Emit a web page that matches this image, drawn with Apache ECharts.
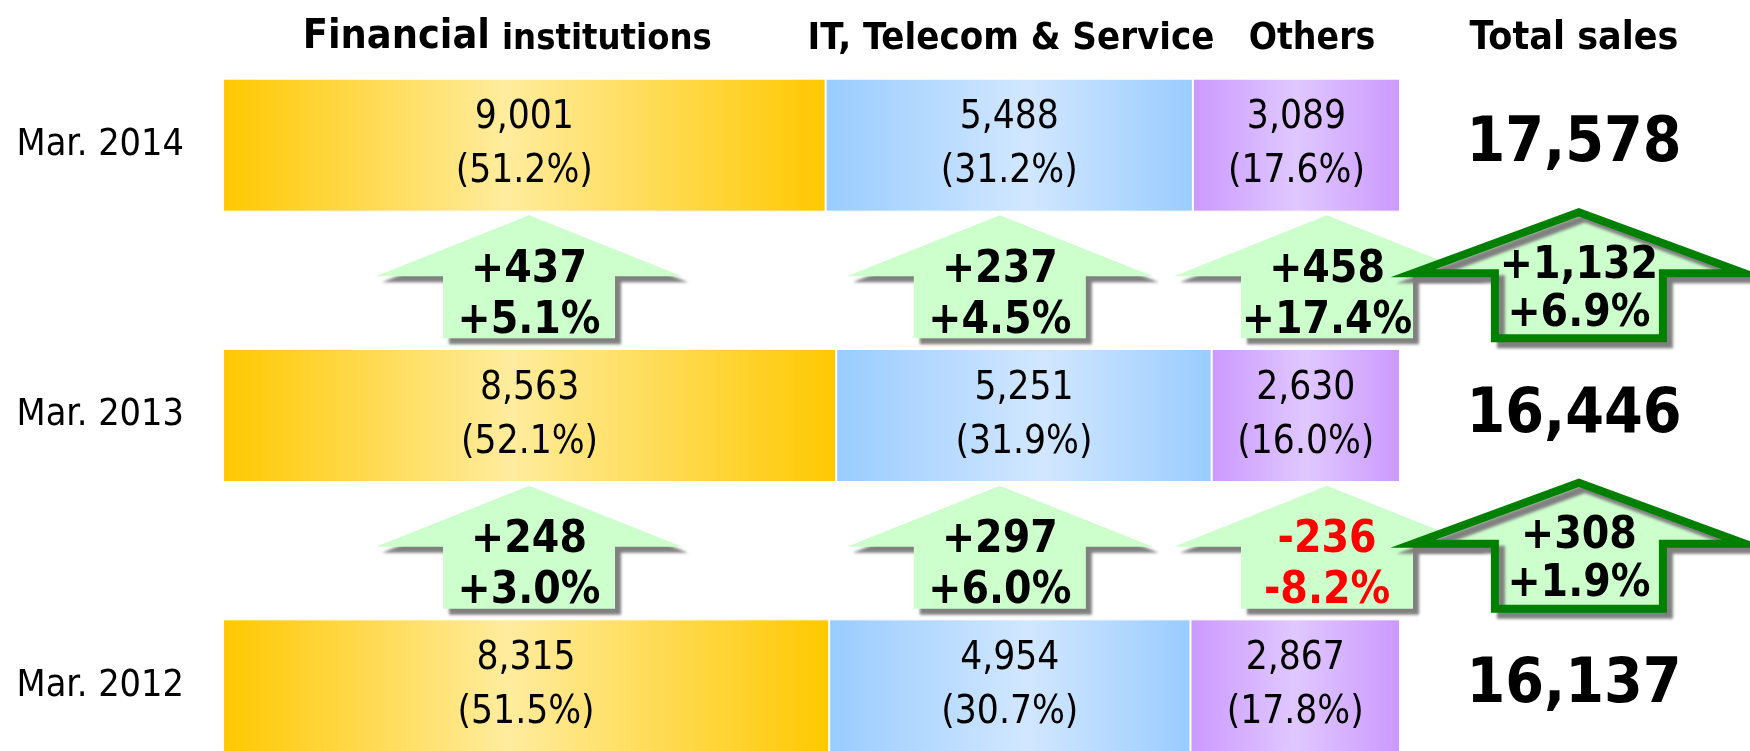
<!DOCTYPE html>
<html>
<head>
<meta charset="utf-8">
<script src="https://cdn.jsdelivr.net/npm/echarts@6/dist/echarts.min.js"></script>
<style>
  html, body { margin: 0; padding: 0; background: #fff; }
  #main { width: 1750px; height: 751px; }
</style>
</head>
<body>
<div id="main"></div>
<script>
const periods = ['Mar. 2014', 'Mar. 2013', 'Mar. 2012'];
const finSales = [9001, 8563, 8315];
const finShare = [51.2, 52.1, 51.5];
const itSales = [5488, 5251, 4954];
const itShare = [31.2, 31.9, 30.7];
const othSales = [3089, 2630, 2867];
const othShare = [17.6, 16.0, 17.8];
const totalSales = [17578, 16446, 16137];

// change vs the row below (2014 vs 2013, 2013 vs 2012)
const finDiff = [437, 248];
const finDiffPct = [5.1, 3.0];
const itDiff = [237, 297];
const itDiffPct = [4.5, 6.0];
const othDiff = [458, -236];
const othDiffPct = [17.4, -8.2];
const totalDiff = [1132, 308];
const totalDiffPct = [6.9, 1.9];

const FONT = '"DejaVu Sans Condensed", "DejaVu Sans", sans-serif';
// where each arrow column sits, in x-axis units (share %)
const ARROW_X = [26, 66, 93.8, 115.2];

const fmt = v => v.toLocaleString('en-US');
const signed = v => (v > 0 ? '+' : '') + fmt(v);
const signedPct = v => (v > 0 ? '+' : '') + v.toFixed(1) + '%';

const myChart = echarts.init(document.getElementById('main'));

const grad = (edge, mid, pos) => new echarts.graphic.LinearGradient(0, 0, 1, 0, [
  { offset: 0, color: edge },
  { offset: pos, color: mid },
  { offset: 1, color: edge }
]);

const barSeries = (name, share, sales, color) => ({
  name,
  type: 'bar',
  stack: 'sales',
  barWidth: 133,
  clip: false,
  data: share,
  itemStyle: { color, borderColor: '#fff', borderWidth: 1 },
  label: {
    show: true,
    position: 'inside',
    color: '#000',
    fontFamily: FONT,
    fontSize: 38.5,
    lineHeight: 54,
    formatter: p => fmt(sales[p.dataIndex]) + '\n(' + share[p.dataIndex].toFixed(1) + '%)'
  }
});

const diffs = [
  [finDiff, finDiffPct],
  [itDiff, itDiffPct],
  [othDiff, othDiffPct],
  [totalDiff, totalDiffPct]
];
const arrowData = [];
diffs.forEach((d, col) => {
  d[0].forEach((v, gap) => {
    arrowData.push([col, gap, v, d[1][gap]]);
  });
});

const renderArrow = (params, api) => {
  const col = api.value(0);
  const gap = api.value(1);
  const val = api.value(2);
  const pct = api.value(3);
  const x = api.coord([ARROW_X[col], 0])[0];
  const mid = (api.coord([0, gap])[1] + api.coord([0, gap + 1])[1]) / 2;
  const isTotal = col === 3;
  let points, cy, t1, t2, style;
  if (isTotal) {
    cy = mid - 7;
    const w = 166, s = 84;
    points = [[x, cy - 61], [x + w, cy], [x + s, cy], [x + s, cy + 65],
              [x - s, cy + 65], [x - s, cy], [x - w, cy]];
    t1 = cy - 7; t2 = cy + 41;
    style = { fill: '#CCFFCC', stroke: '#008000', lineWidth: 8, lineJoin: 'miter', miterLimit: 20 };
  } else {
    cy = mid - 4;
    const w = 153, s = 86;
    points = [[x, cy - 61], [x + w, cy], [x + s, cy], [x + s, cy + 62],
              [x - s, cy + 62], [x - s, cy], [x - w, cy]];
    t1 = cy - 6; t2 = cy + 45;
    style = { fill: '#CCFFCC' };
  }
  style.shadowColor = '#808080';
  style.shadowBlur = 3;
  style.shadowOffsetX = 6;
  style.shadowOffsetY = 6;
  const color = val < 0 ? '#FF0000' : '#000';
  const font = 'bold 44px ' + FONT;
  return {
    type: 'group',
    children: [
      { type: 'polygon', shape: { points }, style },
      { type: 'text', style: { text: signed(val), x, y: t1, align: 'center', verticalAlign: 'middle', font, fill: color } },
      { type: 'text', style: { text: signedPct(pct), x, y: t2, align: 'center', verticalAlign: 'middle', font, fill: color } }
    ]
  };
};

const header = (x, text, size, align) => ({
  type: 'text',
  x, y: 58,
  style: {
    text,
    align: align || 'center',
    verticalAlign: 'bottom',
    font: 'bold ' + size + 'px ' + FONT,
    fill: '#000'
  }
});

myChart.setOption({
  animation: false,
  grid: { left: 223, right: 350, top: 10, height: 811, outerBoundsMode: 'none', containLabel: false },
  xAxis: { type: 'value', min: 0, max: 100, show: false },
  yAxis: [
    {
      type: 'category',
      data: periods,
      inverse: true,
      axisLine: { show: false },
      axisTick: { show: false },
      axisLabel: { margin: 39, color: '#000', fontFamily: FONT, fontSize: 37.5, interval: 0 }
    },
    {
      type: 'category',
      data: periods,
      inverse: true,
      position: 'right',
      axisLine: { show: false },
      axisTick: { show: false },
      axisLabel: {
        margin: 174,
        align: 'center',
        color: '#000',
        fontFamily: FONT,
        fontSize: 62,
        fontWeight: 'bold',
        interval: 0,
        formatter: (v, i) => fmt(totalSales[i])
      }
    }
  ],
  graphic: [
    header(490, 'Financial', 41, 'right'),
    header(502, 'institutions', 36, 'left'),
    header(1011, 'IT, Telecom & Service', 38),
    header(1312, 'Others', 37),
    header(1574, 'Total sales', 39)
  ],
  series: [
    barSeries('Financial institutions', finShare, finSales, grad('#FFC800', '#FFEC9E', 0.47)),
    barSeries('IT, Telecom & Service', itShare, itSales, grad('#99CCFF', '#D2E7FF', 0.55)),
    barSeries('Others', othShare, othSales, grad('#CC99FF', '#E0C8FF', 0.5)),
    {
      type: 'custom',
      renderItem: renderArrow,
      data: arrowData,
      clip: false,
      z: 5
    }
  ]
});
</script>
</body>
</html>
